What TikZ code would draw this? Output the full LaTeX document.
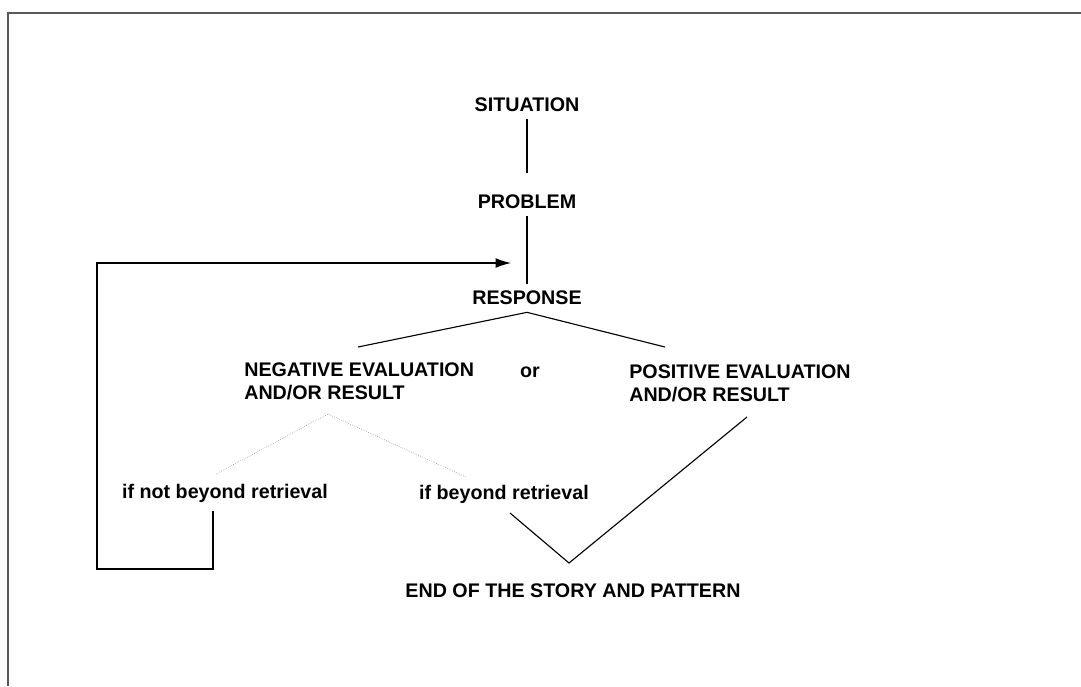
\documentclass[tikz,border=0pt]{standalone}
\usepackage{fontspec}
\setmainfont{Liberation Sans}
\usetikzlibrary{positioning,arrows.meta}

\begin{document}
\begin{tikzpicture}[
  x=0.025cm, y=-0.025cm,
  font=\fontsize{14}{16.5}\selectfont\bfseries,
  lbl/.style={inner sep=5pt, align=left},
  link/.style={line width=0.8pt},
  faint/.style={gray, thin, densely dotted},
  arr/.style={link, -{Latex[length=11pt, width=7pt]}},
  frame/.style={draw=black!65, line width=1.1pt}
]
\useasboundingbox (0,0) rectangle (1081,686);

% page frame
\draw[frame] (1081,13) -- (8,13) -- (8,686);

% main column
\node[lbl] (sit) at (527,105) {SITUATION};
\node[lbl, on grid, below=2.425cm of sit] (prob) {PROBLEM};
\node[lbl, on grid, below=2.4cm of prob] (resp) {RESPONSE};

% evaluations
\node[lbl, anchor=west] (neg) at (237,381) {NEGATIVE EVALUATION\\AND/OR RESULT};
\node[lbl, anchor=base] (or) at (530,377) {or};
\node[lbl, anchor=west] (pos) at (622,383) {POSITIVE EVALUATION\\AND/OR RESULT};

% outcomes
\node[lbl, anchor=base] (nb) at (225,498) {if not beyond retrieval};
\node[lbl, anchor=base] (b) at (504,499) {if beyond retrieval};
\node[lbl, anchor=base] (end) at (573,597) {END OF THE STORY AND PATTERN};

% free ends
\coordinate (negtop) at (358,347);
\coordinate (postop) at (665,347);
\coordinate (negfoot) at (328,414);
\coordinate (nl) at (216,474);
\coordinate (nr) at (466,477);
\coordinate (vl) at (510,513);
\coordinate (vtip) at (569,563);
\coordinate (vr) at (747,417);
\coordinate (nbfoot) at (213,511);
\coordinate (back) at (511,263);

% connectors
\draw[link, shorten >=0.375cm] (sit) -- (prob);
\draw[link] (prob) -- (resp);
\draw[link] (negtop) -- (resp.south) -- (postop);
\draw[faint] (nl) -- (negfoot) -- (nr);
\draw[link] (vl) -- (vtip) -- (vr);
\draw[arr] (nbfoot) |- (97,569) |- (back);

\end{tikzpicture}
\end{document}
